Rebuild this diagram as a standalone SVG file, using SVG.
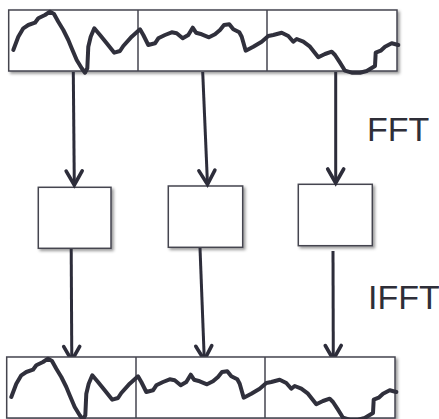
<svg xmlns="http://www.w3.org/2000/svg" xmlns:xlink="http://www.w3.org/1999/xlink" width="439" height="419" viewBox="0 0 439 419">
<style>
.frame{fill:#ffffff;stroke:#45454f;stroke-width:1.5;filter:url(#shadow)}
.div{stroke:#45454f;stroke-width:1.5}
.wave{fill:none;stroke:#30303c;stroke-width:4;stroke-linejoin:round;stroke-linecap:round}
.conn{fill:none;stroke:#2d2d3a;stroke-width:3;marker-end:url(#arrow)}
.lbl{font-family:"Liberation Sans",Arial,sans-serif;font-size:34px;fill:#2e2e38}
</style>
<defs>
<filter id="shadow" x="-10%" y="-10%" width="125%" height="130%">
<feDropShadow dx="2" dy="2" stdDeviation="1.5" flood-color="#000" flood-opacity="0.4"/>
</filter>
<marker id="arrow" markerUnits="userSpaceOnUse" viewBox="-18 -12 22 24" markerWidth="22" markerHeight="24" refX="0" refY="0" orient="auto">
<path d="M-14,-8 L0,0 L-14,8" fill="none" stroke="#2d2d3a" stroke-width="3.6" stroke-linejoin="miter" stroke-linecap="round"/>
</marker>
<g id="strip">
<rect class="frame" x="8.7" y="10" width="388.3" height="61"/>
<line class="div" x1="138" y1="10" x2="138" y2="71"/>
<line class="div" x1="267" y1="10" x2="267" y2="71"/>
<polyline class="wave" points="13.3,50 18.3,36.7 23.3,28.3 28.3,25 35,22.7 38.3,18.3 45,15 50,11.7 54,14 58.3,21.7 63.3,30 68.3,40 71.7,48.3 76.7,60 81.7,68.3 85,72.7 87.3,68.3 88.3,46.7 90.7,36.7 94.3,28.3 100,35 106.7,43.3 114.3,52.7 120,51 123.3,46 131.7,36.7 140,29.3 143.3,35 148.3,45 155,43.3 158.3,38.3 165,35 171.7,32.3 176.7,33.3 182.7,38.3 188.3,35 192.7,27.7 196,32.7 201.7,34.3 209,37.3 215,34.3 220,30 224,25 229.3,24.3 233.3,29.3 239.3,32.3 241.7,36.7 245.7,50.7 253.3,46.7 261.7,41.7 268.3,36 273.3,35 281.7,32.7 288.3,36 293.3,41.7 296.7,39 303.3,41.7 310,46.7 318.3,57.3 325,54 331.7,51.7 335,55 340,62.7 345,70.7 351.7,72.7 360,72.7 366.7,71 375,66 375.7,52.7 380.7,50.7 385,46.7 391.7,43.3 398.3,45"/>
</g>
</defs>
<g id="signal-top"><use xlink:href="#strip"/></g>
<g id="box1"><rect class="frame" x="38.3" y="187.3" width="72.7" height="61"/></g>
<g id="box2"><rect class="frame" x="168.3" y="186" width="74.4" height="61.3"/></g>
<g id="box3"><rect class="frame" x="298.3" y="184.3" width="74" height="61.4"/></g>
<g id="connectors">
<line class="conn" x1="73.3" y1="72" x2="74.3" y2="185"/>
<line class="conn" x1="202.7" y1="72" x2="207.5" y2="184.5"/>
<line class="conn" x1="335.7" y1="72" x2="335.7" y2="183"/>
<line class="conn" x1="71.2" y1="249" x2="71.8" y2="360.5"/>
<line class="conn" x1="200" y1="248" x2="204.3" y2="360"/>
<line class="conn" x1="333" y1="251" x2="333.3" y2="359.5"/>
</g>
<g id="signal-bottom"><use xlink:href="#strip" transform="translate(-2,347)"/></g>
<g id="label-fft"><text class="lbl" x="367" y="141">FFT</text></g>
<g id="label-ifft"><text class="lbl" x="368" y="309">IFFT</text></g>
</svg>
